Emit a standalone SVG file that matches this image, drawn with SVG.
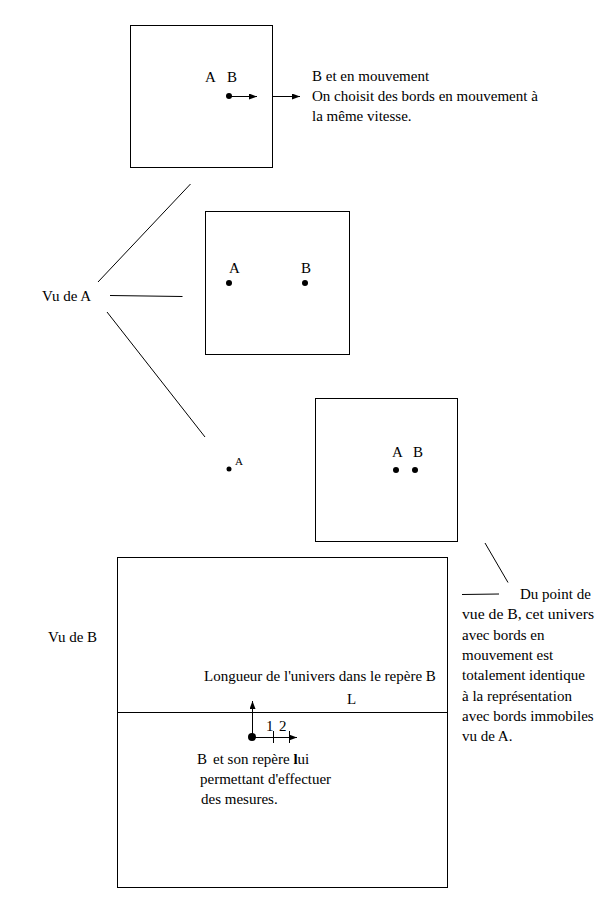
<svg xmlns="http://www.w3.org/2000/svg" width="600" height="900" viewBox="0 0 600 900">
<style>
.t{font-family:"Liberation Serif","Times New Roman",serif;font-size:15px;fill:#000}
.s{font-family:"Liberation Serif","Times New Roman",serif;font-size:11px;fill:#000}
.b{fill:#fff;stroke:#000;stroke-width:1}
.l{stroke:#000;stroke-width:1;fill:none}
.d{fill:#000}
</style>
<defs>
<marker id="ah" markerWidth="8" markerHeight="6" refX="8" refY="3" orient="auto" markerUnits="userSpaceOnUse">
<path d="M0,0 L8,3 L0,6 Z" fill="#000"/>
</marker>
</defs>
<rect width="600" height="900" fill="#fff"/>

<g id="box1">
<rect class="b" x="130.5" y="25.5" width="142" height="142"/>
<text class="t" x="205" y="82">A</text>
<text class="t" x="227" y="82">B</text>
<circle class="d" cx="229" cy="96" r="3"/>
<line class="l" x1="229" y1="96.5" x2="257" y2="96.5" marker-end="url(#ah)"/>
</g>

<g id="note1">
<text class="t" x="312" y="81">B et en mouvement</text>
<text class="t" x="312" y="101">On choisit des bords en mouvement à</text>
<text class="t" x="312" y="121">la même vitesse.</text>
</g>

<g id="box2">
<rect class="b" x="205.5" y="211.5" width="144" height="143"/>
<text class="t" x="229" y="273">A</text>
<circle class="d" cx="229" cy="283" r="3"/>
<text class="t" x="301" y="273">B</text>
<circle class="d" cx="305" cy="283" r="3"/>
</g>

<g id="vuA">
<text class="t" x="42" y="301">Vu de A</text>
</g>

<g id="pointA">
<circle class="d" cx="229" cy="469" r="2.5"/>
<text class="s" x="235" y="465">A</text>
</g>

<g id="box3">
<rect class="b" x="315.5" y="398.5" width="142" height="143"/>
<text class="t" x="392" y="457">A</text>
<circle class="d" cx="396" cy="470" r="3"/>
<text class="t" x="413" y="457">B</text>
<circle class="d" cx="415" cy="470" r="3"/>
</g>

<g id="box4">
<rect class="b" x="117.5" y="557.5" width="330" height="330"/>
<line class="l" x1="117" y1="712.5" x2="447" y2="712.5"/>
<text class="t" x="204" y="681">Longueur de l'univers dans le repère B</text>
<text class="t" x="347" y="704">L</text>
<line class="l" x1="252.5" y1="737" x2="252.5" y2="701" marker-end="url(#ah)"/>
<line class="l" x1="252" y1="737.5" x2="297" y2="737.5" marker-end="url(#ah)"/>
<line class="l" x1="273.5" y1="731" x2="273.5" y2="743"/>
<line class="l" x1="289.5" y1="731" x2="289.5" y2="743"/>
<circle class="d" cx="252" cy="737" r="4"/>
<text class="t" x="266" y="731">1</text>
<text class="t" x="279" y="731">2</text>
<text class="t" x="197" y="764">B<tspan x="213">et son repère <tspan font-weight="bold">l</tspan>ui</tspan></text>
<text class="t" x="200" y="784">permettant d'effectuer</text>
<text class="t" x="201" y="804">des mesures.</text>
</g>

<g id="vuB">
<text class="t" x="48" y="642">Vu de B</text>
</g>

<g id="note2">
<text class="t" x="520" y="599">Du point de</text>
<text class="t" x="462" y="619" textLength="132" lengthAdjust="spacingAndGlyphs">vue de B, cet univers</text>
<text class="t" x="462" y="639.5">avec bords en</text>
<text class="t" x="462" y="659.5">mouvement est</text>
<text class="t" x="462" y="680">totalement identique</text>
<text class="t" x="462" y="700.5">à la représentation</text>
<text class="t" x="462" y="720.5">avec bords immobiles</text>
<text class="t" x="462" y="741">vu de A.</text>
</g>

<g id="connectors">
<line class="l" x1="273" y1="96.5" x2="300" y2="96.5" marker-end="url(#ah)"/>
<line class="l" x1="98" y1="282" x2="190.5" y2="184"/>
<line class="l" x1="110" y1="295.5" x2="182.5" y2="296.5"/>
<line class="l" x1="107" y1="312" x2="205" y2="437"/>
<line class="l" x1="485" y1="543" x2="508" y2="582.5"/>
<line class="l" x1="462" y1="594.5" x2="499" y2="594"/>
</g>
</svg>
